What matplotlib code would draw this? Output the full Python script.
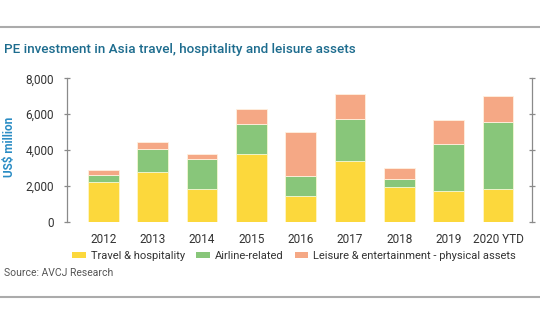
import matplotlib
matplotlib.use("Agg")
import matplotlib.pyplot as plt
from matplotlib.lines import Line2D
from matplotlib.patches import Patch

categories = ["2012", "2013", "2014", "2015", "2016", "2017", "2018", "2019", "2020 YTD"]
travel = [2200, 2750, 1800, 3750, 1420, 3370, 1910, 1700, 1850]
airline = [400, 1300, 1700, 1700, 1130, 2350, 480, 2650, 3700]
leisure = [300, 400, 300, 850, 2450, 1430, 580, 1350, 1450]
series_names = ["Travel & hospitality", "Airline-related", "Leisure & entertainment - physical assets"]
yticks = [0, 2000, 4000, 6000, 8000]
title = "PE investment in Asia travel, hospitality and leisure assets"
ylabel = "US$ million"
source = "Source: AVCJ Research"

colors = ["#FCD83C", "#88C67A", "#F5A885"]
plt.rcParams['font.family'] = ['Roboto', 'DejaVu Sans']

W, H = 540, 334
fig = plt.figure(figsize=(W / 100, H / 100), dpi=100)
ax = fig.add_axes([66.7 / W, 1 - 221.7 / H, (532 - 66.7) / W, (221.7 - 78.3) / H])

x = list(range(len(categories)))
bottoms2 = travel
bottoms3 = [a + b for a, b in zip(travel, airline)]
bw = 0.62
ax.bar(x, travel, width=bw, color=colors[0], edgecolor="#FFF6C8", linewidth=0.6)
ax.bar(x, airline, bottom=bottoms2, width=bw, color=colors[1], edgecolor="#F4F8D0", linewidth=0.6)
ax.bar(x, leisure, bottom=bottoms3, width=bw, color=colors[2], edgecolor="#FFF0E0", linewidth=0.6)

ax.set_xlim(-0.74, 8.69)
ax.set_ylim(0, 8000)
ax.set_yticks(yticks)
ax.set_yticklabels([f"{v:,}" for v in yticks])
ax.set_xticks(x)
ax.set_xticklabels(categories)
for s in ["top", "bottom"]:
    ax.spines[s].set_visible(False)
for s in ["left", "right"]:
    ax.spines[s].set_color("#8a8a8a")
    ax.spines[s].set_linewidth(0.9)
ax.tick_params(axis="y", which="both", left=True, right=True, direction="inout", length=4,
               color="#8a8a8a", width=0.9, labelsize=8.5, labelcolor="#333333", pad=7)
ax.tick_params(axis="x", length=0, labelsize=8.5, labelcolor="#333333", pad=8)

fig.text(4 / W, 1 - 49 / H, title, fontsize=9.7, color="#1D6C8E", va="center", ha="left",
         fontweight="medium")
fig.text(10 / W, 1 - 147 / H, ylabel, rotation=90, fontsize=8.5, color="#2A8CC4",
         va="center", ha="center", fontweight="bold")
fig.text(4 / W, 1 - 273 / H, source, fontsize=7.5, color="#555555", va="center", ha="left")

handles = [Patch(facecolor=c, edgecolor="none") for c in colors]
fig.legend(handles, series_names, loc="center", bbox_to_anchor=(294 / W, 1 - 256 / H),
           ncol=3, frameon=False, fontsize=8, handlelength=1.25, handleheight=0.55,
           handletextpad=0.45, columnspacing=1.0, labelcolor="#333333")

fig.add_artist(Line2D([0, 1], [1 - 27 / H] * 2, color="#ababab", linewidth=1.5, transform=fig.transFigure))
fig.add_artist(Line2D([0, 1], [1 - 297 / H] * 2, color="#ababab", linewidth=1.5, transform=fig.transFigure))

fig.savefig("out.png", dpi=100)
